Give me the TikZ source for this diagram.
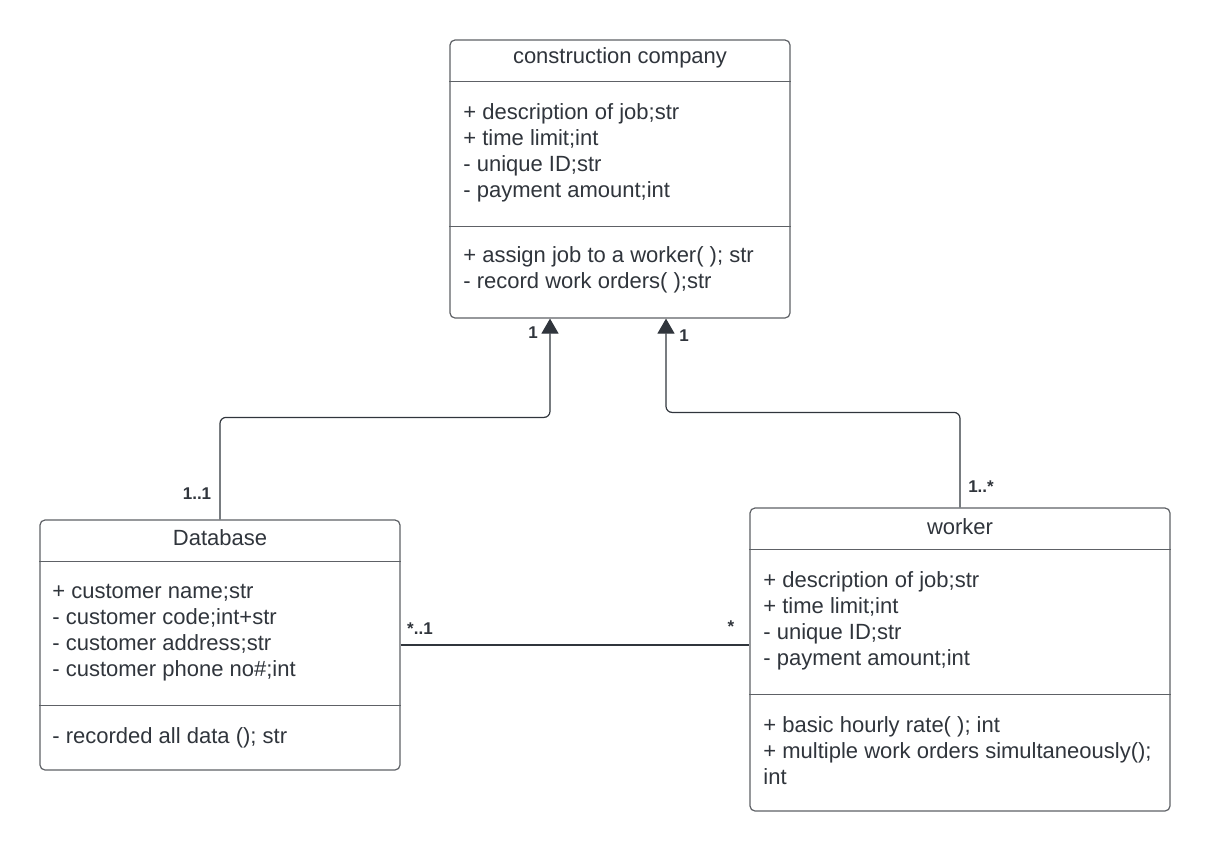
\documentclass[tikz,border=0pt]{standalone}
\usepackage{fontspec}
\setmainfont{Liberation Sans}
\usetikzlibrary{arrows.meta, calc}
\definecolor{inkgray}{HTML}{30353C}
\definecolor{linegray}{HTML}{5E6166}

\begin{document}
\begin{tikzpicture}[x=0.5pt,y=-0.5pt,
                    classbox/.style={draw=linegray,line width=0.6pt,rounded corners=2.5pt,
                                     fill=white,inner sep=0pt},
                    divider/.style={draw=linegray,line width=0.6pt},
                    title/.style={text=inkgray,font=\fontsize{11}{13}\selectfont},
                    members/.style={text=inkgray,font=\fontsize{11}{13}\selectfont,
                                    align=left,anchor=west,inner sep=0pt},
                    mult/.style={text=inkgray,font=\fontsize{8.5}{10}\selectfont\bfseries},
                    inherit/.style={draw=inkgray,line width=0.6pt,rounded corners=3pt,
                                    -{Triangle[width=8.5pt,length=7.5pt]}},
                    assoc/.style={draw=inkgray,line width=0.6pt}]
                \useasboundingbox (0,0) rectangle (1210,852);

                % classes
                \node[classbox,minimum width=170pt,minimum height=139pt] (cc) at (620,179) {};
                \node[classbox,minimum width=180pt,minimum height=125pt] (db) at (220,645) {};
                \node[classbox,minimum width=210pt,minimum height=151.5pt] (wk) at (960,659.5) {};

                \draw[divider] ([yshift=-21pt]cc.north west) -- ([yshift=-21pt]cc.north east);
                \draw[divider] ([yshift=-93.5pt]cc.north west) -- ([yshift=-93.5pt]cc.north east);
                \draw[divider] ([yshift=-21pt]db.north west) -- ([yshift=-21pt]db.north east);
                \draw[divider] ([yshift=-93pt]db.north west) -- ([yshift=-93pt]db.north east);
                \draw[divider] ([yshift=-21pt]wk.north west) -- ([yshift=-21pt]wk.north east);
                \draw[divider] ([yshift=-93.5pt]wk.north west) -- ([yshift=-93.5pt]wk.north east);

                % texts
                \node[title] (cc-name) at (620,58) {construction company};
                \node[members] (cc-attr) at (463,152.5) {+ description of job;str\\+ time limit;int\\- unique ID;str\\- payment amount;int};
                \node[members] (cc-ops) at (463,270) {+ assign job to a worker( ); str\\- record work orders( );str};

                \node[title] (db-name) at (220,538) {Database};
                \node[members] (db-attr) at (52,632.5) {+ customer name;str\\- customer code;int+str\\- customer address;str\\- customer phone no\#;int};
                \node[members] (db-ops) at (52,738) {- recorded all data (); str};

                \node[title] (wk-name) at (960,527) {worker};
                \node[members] (wk-attr) at (763,621) {+ description of job;str\\+ time limit;int\\- unique ID;str\\- payment amount;int};
                \node[members] (wk-ops) at (763,751) {+ basic hourly rate( ); int\\+ multiple work orders simultaneously();\\int};

                % connectors
                \draw[inherit] (db.north) -- ++(0,-102) -| ($(cc.south)+(-70,0)$);
                \draw[inherit] (wk.north) -- ++(0,-95) -| ($(cc.south)+(46,0)$);
                \draw[assoc] (db.east) -- (db.east -| wk.west);

                % multiplicities
                \node[mult] (m1) at (533,333) {1};
                \node[mult] (m2) at (684,336) {1};
                \node[mult] (m3) at (197,494) {1..1};
                \node[mult] (m4) at (981,487) {1..*};
                \node[mult] (m5) at (420,629) {*..1};
                \node[mult] (m6) at (731,627) {*};
\end{tikzpicture}
\end{document}
